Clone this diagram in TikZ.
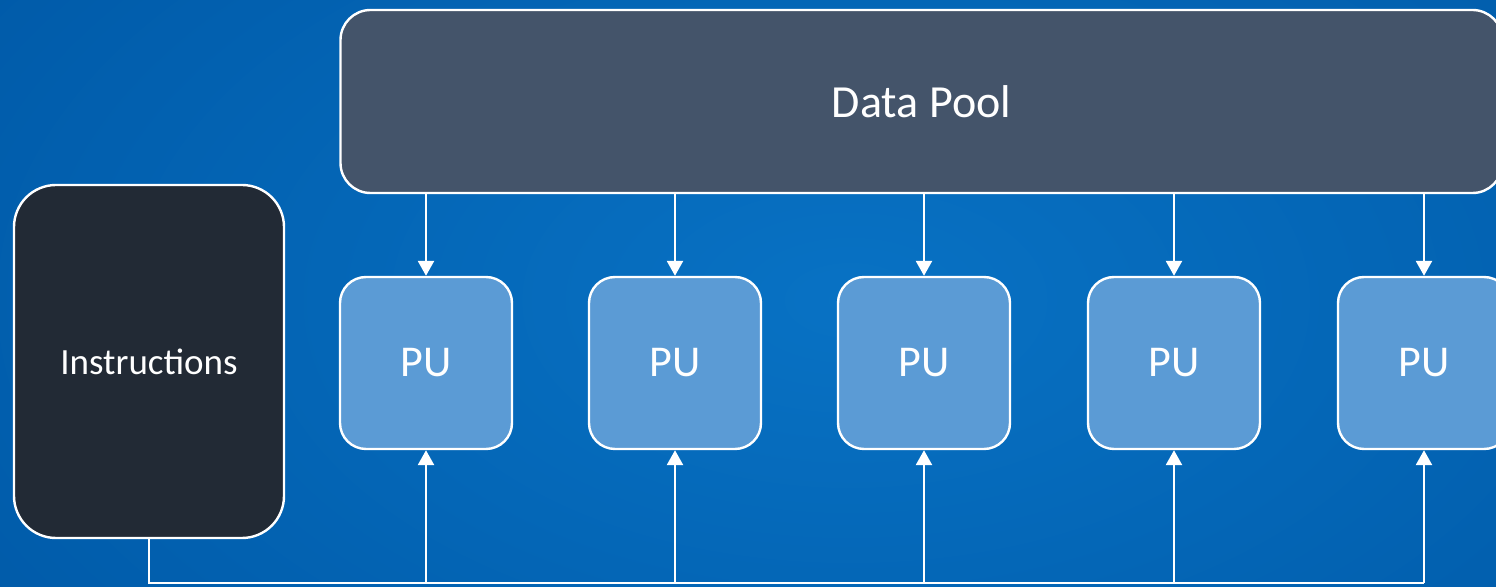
\documentclass[tikz,border=0pt]{standalone}
\usepackage{fontspec}
\setmainfont{Carlito}
\usetikzlibrary{arrows.meta}
\definecolor{bgin}{HTML}{0872C4}
\definecolor{bgout}{HTML}{005AA8}
\definecolor{poolc}{HTML}{44546A}
\definecolor{instc}{HTML}{222A35}
\definecolor{puc}{HTML}{5B9BD5}
\tikzset{
  pubox/.style={draw=white, line width=1.2pt, fill=puc, rounded corners=13pt,
    minimum width=86pt, minimum height=86pt, inner sep=0pt, text=white, font=\fontsize{22}{26}\selectfont},
  poolbox/.style={draw=white, line width=1.2pt, fill=poolc, rounded corners=15pt,
    minimum width=581pt, minimum height=91.5pt, inner sep=0pt, text=white, font=\fontsize{23}{27}\selectfont},
  instbox/.style={draw=white, line width=1.2pt, fill=instc, rounded corners=21pt,
    minimum width=135pt, minimum height=176.5pt, inner sep=0pt, text=white, font=\fontsize{18.5}{22}\selectfont},
  conn/.style={draw=white, line width=1.3pt},
  arr/.style={conn, -{Triangle[width=8pt,length=7.5pt]}}
}
\begin{document}
\begin{tikzpicture}[x=0.5pt,y=-0.5pt]
\useasboundingbox (0,0) rectangle (1496,587);
\clip (0,0) rectangle (1496,587);
\fill[inner color=bgin, outer color=bgout] (-200,-300) rectangle (1900,900);
\node[poolbox] (pool) at (921.5,101.5) {Data Pool};
\node[instbox] (inst) at (149,361.5) {Instructions};
\foreach \i/\x in {1/426,2/675,3/924,4/1174,5/1424}{
  \node[pubox] (pu\i) at (\x,363) {PU};
  \coordinate (b\i) at (\x,583);
  \draw[arr] (pool.south -| pu\i) -- (pu\i.north);
  \draw[arr] (b\i) -- (pu\i.south);
}
\coordinate (c0) at (149,583);
\draw[conn] (inst.south) -- (c0) -- (b5);
\end{tikzpicture}
\end{document}
